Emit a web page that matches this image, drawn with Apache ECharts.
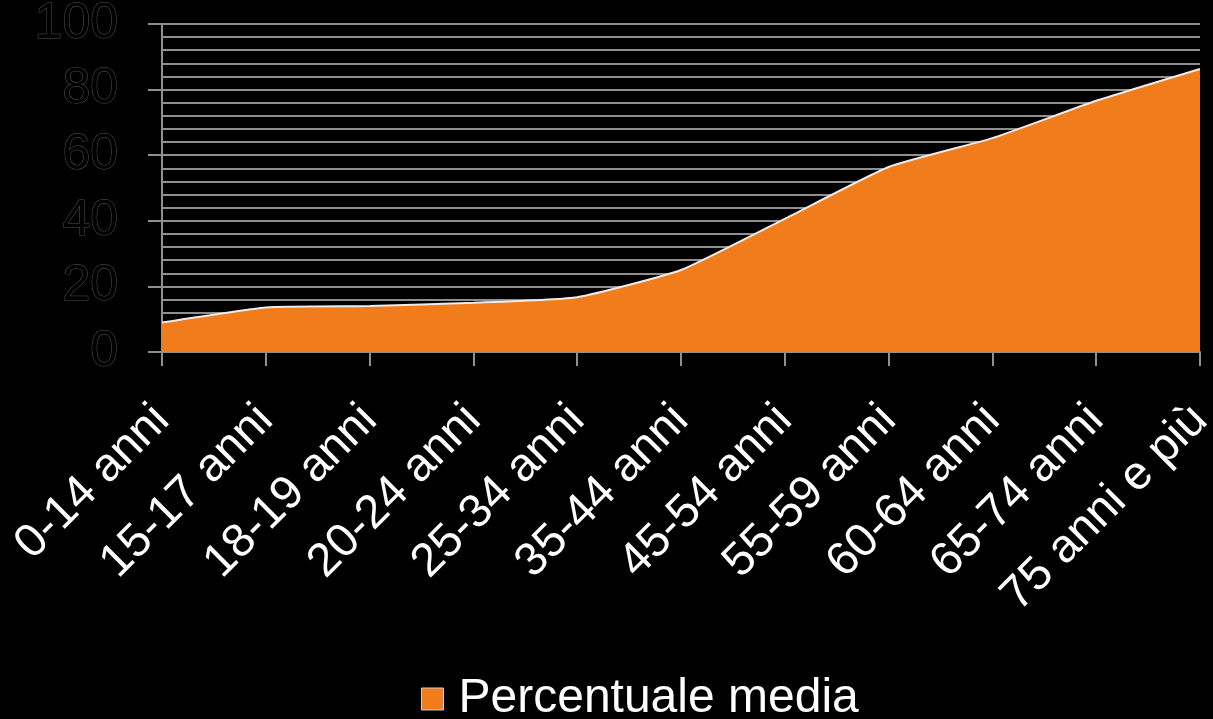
<!DOCTYPE html>
<html>
<head>
<meta charset="utf-8">
<script src="https://cdn.jsdelivr.net/npm/echarts@6/dist/echarts.min.js"></script>
<style>
  html, body { margin: 0; padding: 0; background: #000; }
  #chart { width: 1213px; height: 719px; }
</style>
</head>
<body>
<div id="chart"></div>
<script>
// fasce d'età
const categories = ['0-14 anni', '15-17 anni', '18-19 anni', '20-24 anni', '25-34 anni', '35-44 anni',
  '45-54 anni', '55-59 anni', '60-64 anni', '65-74 anni', '75 anni e più']
const percentuale = [9.0, 13.6, 14.0, 15.0, 16.7, 25.0, 40.6, 56.4, 65.2, 76.6, 86.3]
const seriesName = 'Percentuale media'

const chart = echarts.init(document.getElementById('chart'))

const gridColor = '#8f8f8f'

const option = {
  backgroundColor: '#000',
  animation: false,
  textStyle: { fontFamily: 'Liberation Sans, Arial, sans-serif' },
  grid: { left: 162, right: 13, top: 24, bottom: 367, outerBoundsMode: 'none' },
  legend: {
    data: [{ name: seriesName, icon: 'rect' }],
    left: 416,
    top: 670,
    itemWidth: 22,
    itemHeight: 22,
    itemStyle: { color: '#F07C1C', borderColor: '#cfcfcf', borderWidth: 1 },
    textStyle: { color: '#fff', fontSize: 48, padding: [0, 0, 0, 10] },
  },
  xAxis: {
    type: 'category',
    boundaryGap: false,
    data: categories,
    axisLine: { lineStyle: { color: gridColor, width: 2 } },
    axisTick: { show: true, length: 14, lineStyle: { color: gridColor, width: 2 } },
    axisLabel: {
      color: '#fff',
      fontSize: 47,
      rotate: 45,
      margin: 61,
      interval: 0,
    },
  },
  yAxis: {
    type: 'value',
    min: 0,
    max: 100,
    interval: 20,
    axisLine: { show: true, lineStyle: { color: gridColor, width: 2 } },
    axisTick: { show: true, length: 14, lineStyle: { color: gridColor, width: 2 } },
    minorTick: { show: false, splitNumber: 5 },
    minorSplitLine: { show: true, lineStyle: { color: gridColor, width: 2 } },
    axisLabel: {
      color: '#000',
      textBorderColor: '#555',
      textBorderWidth: 1,
      fontSize: 50,
      margin: 44,
    },
    splitLine: { show: true, lineStyle: { color: gridColor, width: 2 } },
  },
  series: [
    {
      name: seriesName,
      type: 'line',
      data: percentuale,
      smooth: 0.15,
      symbol: 'none',
      lineStyle: { color: '#ececec', width: 2 },
      itemStyle: { color: '#F07C1C' },
      areaStyle: { color: '#F07C1C', opacity: 1 },
    },
  ],
}

chart.setOption(option)
</script>
</body>
</html>
